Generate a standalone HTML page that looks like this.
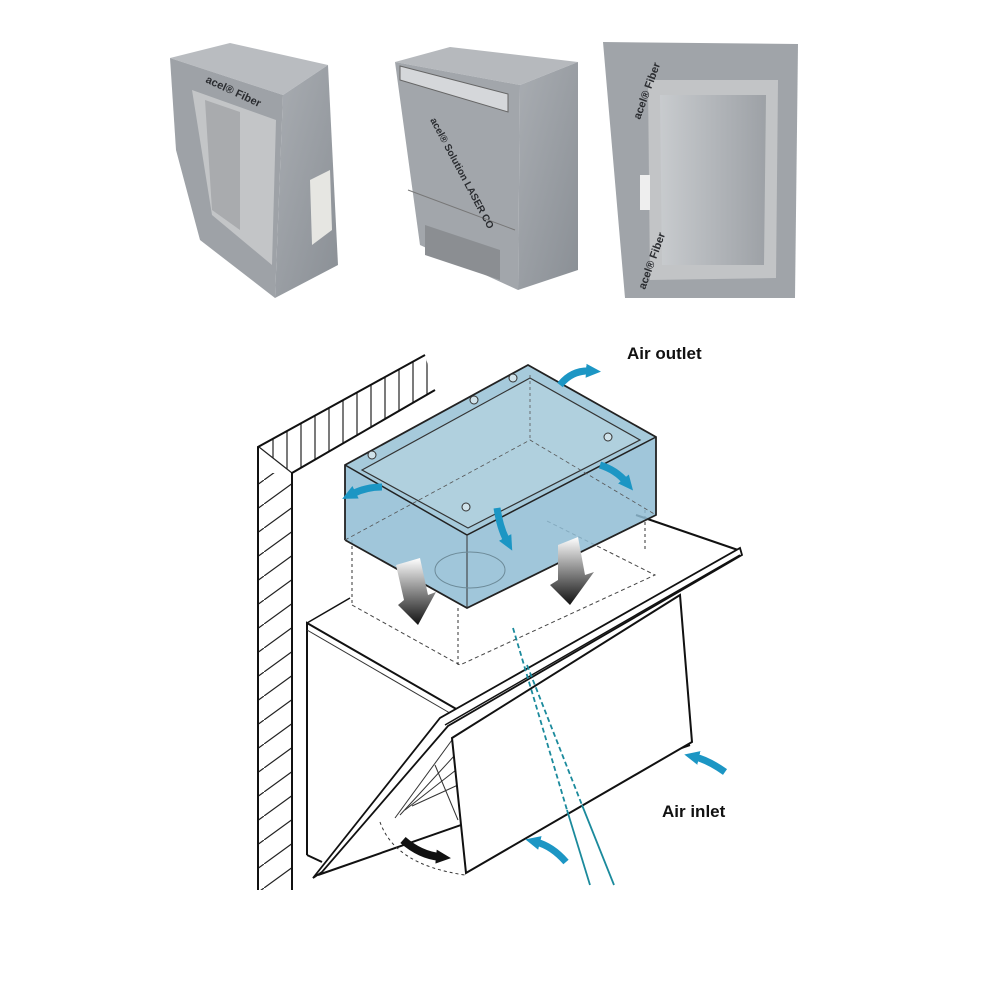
<!DOCTYPE html>
<html><head><meta charset="utf-8"><style>
html,body{margin:0;padding:0;background:#fff;}
svg{display:block}
text{font-family:"Liberation Sans",sans-serif;font-weight:bold;}
</style></head><body>
<svg width="1000" height="1000" viewBox="0 0 1000 1000" xmlns="http://www.w3.org/2000/svg">
<defs>
<linearGradient id="g1" x1="0" y1="0" x2="1" y2="1"><stop offset="0" stop-color="#a9adb2"/><stop offset="1" stop-color="#8a8f95"/></linearGradient>
<linearGradient id="g2" x1="0" y1="0" x2="1" y2="0"><stop offset="0" stop-color="#c8cbce"/><stop offset="1" stop-color="#9da1a6"/></linearGradient>
<linearGradient id="ga" x1="0" y1="0" x2="0" y2="1"><stop offset="0" stop-color="#fff"/><stop offset="1" stop-color="#111"/></linearGradient>
<pattern id="vh" width="14" height="20" patternUnits="userSpaceOnUse"><line x1="7" y1="0" x2="7" y2="20" stroke="#222" stroke-width="1.2"/></pattern>
<pattern id="dh" width="33" height="24" patternUnits="userSpaceOnUse"><line x1="0" y1="24" x2="33" y2="0" stroke="#222" stroke-width="1.2"/></pattern>
<marker id="ah" markerWidth="16" markerHeight="16" refX="4" refY="8" orient="auto" markerUnits="userSpaceOnUse"><path d="M0,1 L15,8 L0,15 z" fill="#1c96c4"/></marker>
<marker id="ahk" markerWidth="16" markerHeight="16" refX="4" refY="8" orient="auto" markerUnits="userSpaceOnUse"><path d="M0,1 L15,8 L0,15 z" fill="#111"/></marker>
</defs>

<!-- Photo 1 -->
<polygon points="170,58 230,43 328,65 283,95" fill="#b9bcc0"/>
<polygon points="283,95 328,65 338,265 275,298" fill="url(#g1)"/>
<polygon points="170,58 283,95 275,298 200,240 176,150" fill="#9ea2a7"/>
<polygon points="192,90 276,120 272,265 212,215" fill="#c3c5c7"/>
<polygon points="205,100 240,112 240,230 212,210" fill="#a9abae"/>
<polygon points="310,180 330,170 332,230 312,245" fill="#e6e6e2"/>
<text x="205" y="82" font-size="11" fill="#2a2c30" transform="rotate(25 205 82)">acel® Fiber</text>

<!-- Photo 2 -->
<polygon points="395,62 450,47 578,62 520,85" fill="#b6b9bd"/>
<polygon points="520,85 578,62 578,270 518,290" fill="url(#g1)"/>
<polygon points="395,62 520,85 518,290 420,245" fill="#a2a6ab"/>
<polygon points="400,66 508,94 508,112 400,80" fill="#d5d7da" stroke="#666"/>
<polygon points="425,225 500,250 500,280 425,255" fill="#8b8e92"/>
<line x1="408" y1="190" x2="515" y2="230" stroke="#777"/>
<text x="430" y="120" font-size="10" fill="#2a2c30" transform="rotate(62 430 120)">acel® Solution LASER CO</text>

<!-- Photo 3 -->
<polygon points="603,42 798,44 795,298 625,298" fill="#a0a4a9"/>
<polygon points="648,80 778,80 776,278 650,280" fill="#c2c4c6"/>
<polygon points="660,95 766,95 764,265 662,265" fill="url(#g2)"/>
<rect x="640" y="175" width="10" height="35" fill="#eee"/>
<text x="640" y="120" font-size="11" fill="#2a2c30" transform="rotate(-70 640 120)">acel® Fiber</text>
<text x="645" y="290" font-size="11" fill="#2a2c30" transform="rotate(-70 645 290)">acel® Fiber</text>

<!-- Wall -->
<polygon points="258,447 425,355 435,390 292,473" fill="url(#vh)"/>
<rect x="259" y="473" width="33" height="417" fill="url(#dh)"/>
<polygon points="259,447 292,473 259,473" fill="#fff"/>
<line x1="259" y1="447" x2="292" y2="473" stroke="#222" stroke-width="1.2"/>
<polyline points="258,890 258,447 425,355" fill="none" stroke="#111" stroke-width="2"/>
<polyline points="292,890 292,473 435,390" fill="none" stroke="#111" stroke-width="2"/>

<!-- Hood body -->
<polygon points="307,623 350,598 640,520 740,548 315,878 307,855" fill="#fff"/>
<polyline points="307,855 307,623 458,710" fill="none" stroke="#111" stroke-width="2"/>
<line x1="307" y1="630" x2="455" y2="716" stroke="#333" stroke-width="1"/>
<line x1="307" y1="623" x2="350" y2="598" stroke="#111" stroke-width="1.5"/>
<line x1="636" y1="515" x2="738" y2="550" stroke="#111" stroke-width="2"/>
<line x1="307" y1="855" x2="322" y2="862" stroke="#111" stroke-width="2"/>
<polyline points="352,605 460,665 655,575 545,520" fill="none" stroke="#444" stroke-width="1" stroke-dasharray="4,3"/>
<line x1="352" y1="540" x2="352" y2="605" stroke="#333" stroke-dasharray="3,3"/>
<line x1="458" y1="608" x2="458" y2="668" stroke="#333" stroke-dasharray="3,3"/>
<line x1="645" y1="510" x2="645" y2="552" stroke="#333" stroke-dasharray="3,3"/>
<polygon points="313,878 440,718 740,548 742,555 448,726 322,872" fill="#fff" stroke="#111" stroke-width="1.8"/>
<line x1="445" y1="725" x2="740" y2="555" stroke="#111" stroke-width="1.5"/>
<line x1="318" y1="875" x2="690" y2="745" stroke="#111" stroke-width="2"/>
<g stroke="#333" stroke-width="1">
<line x1="395" y1="818" x2="452" y2="740"/><line x1="400" y1="815" x2="455" y2="755"/><line x1="405" y1="810" x2="456" y2="770"/><line x1="412" y1="806" x2="458" y2="785"/>
<line x1="435" y1="765" x2="458" y2="820"/>
</g>
<polygon points="452,738 680,595 692,742 466,873" fill="#fff" stroke="#111" stroke-width="2"/>
<line x1="513" y1="628" x2="567" y2="810" stroke="#1b8a9c" stroke-width="1.8" stroke-dasharray="5,3"/>
<line x1="567" y1="810" x2="590" y2="885" stroke="#1b8a9c" stroke-width="1.8"/>
<line x1="527" y1="665" x2="582" y2="805" stroke="#1b8a9c" stroke-width="1.8" stroke-dasharray="5,3"/>
<line x1="582" y1="805" x2="614" y2="885" stroke="#1b8a9c" stroke-width="1.8"/>
<path d="M380,822 Q395,865 465,875" fill="none" stroke="#333" stroke-dasharray="3,3"/>
<path d="M403,840 Q420,855 440,857" fill="none" stroke="#111" stroke-width="8" marker-end="url(#ahk)"/>

<!-- Blue box -->
<polygon points="345,465 528,365 656,437 656,515 467,608 345,540" fill="#8fbcd3" fill-opacity="0.85"/>
<polygon points="345,465 528,365 656,437 467,535" fill="#a6cadb"/>
<polygon points="362,470 530,378 640,440 468,528" fill="#b0d0de" stroke="#333" stroke-width="1.2"/>
<polyline points="345,540 345,465 528,365 656,437 656,515 467,608 345,540" fill="none" stroke="#222" stroke-width="1.8"/>
<polyline points="345,465 467,535 656,437" fill="none" stroke="#222" stroke-width="1.5"/>
<line x1="467" y1="535" x2="467" y2="608" stroke="#333" stroke-width="1"/>
<polyline points="345,540 530,440 656,515" fill="none" stroke="#555" stroke-dasharray="4,3" stroke-width="0.8"/>
<line x1="530" y1="375" x2="530" y2="440" stroke="#555" stroke-dasharray="3,3" stroke-width="0.8"/>
<ellipse cx="470" cy="570" rx="35" ry="18" fill="none" stroke="#6c8a98"/>
<g fill="#cfe2ea" stroke="#333"><circle cx="372" cy="455" r="4"/><circle cx="474" cy="400" r="4"/><circle cx="513" cy="378" r="4"/><circle cx="608" cy="437" r="4"/><circle cx="466" cy="507" r="4"/></g>

<polygon points="396,565 420,558 428,595 436,592 418,625 398,605 404,600" fill="url(#ga)"/>
<polygon points="558,545 578,537 585,575 594,572 570,605 550,585 558,580" fill="url(#ga)"/>

<g fill="none" stroke="#1c96c4" stroke-width="7">
<path d="M560,385 Q572,370 590,371" marker-end="url(#ah)"/>
<path d="M382,487 Q366,487 352,494" marker-end="url(#ah)"/>
<path d="M600,465 Q616,470 626,482" marker-end="url(#ah)"/>
<path d="M497,508 Q500,528 507,541" marker-end="url(#ah)"/>
<path d="M725,772 Q708,760 695,757" marker-end="url(#ah)"/>
<path d="M566,862 Q552,846 536,842" marker-end="url(#ah)"/>
</g>

<text x="627" y="359" font-size="17" fill="#111">Air outlet</text>
<text x="662" y="817" font-size="17" fill="#111">Air inlet</text>
</svg>
</body></html>
